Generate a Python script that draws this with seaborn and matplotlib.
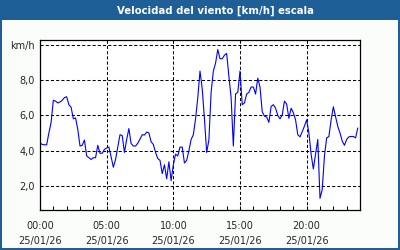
import numpy as np
import pandas as pd
import matplotlib
matplotlib.use("Agg")
import matplotlib.pyplot as plt
from matplotlib.patches import Rectangle
import seaborn as sns

# ---- data (10-minute samples, 25/01/26) ----
speed = [
    4.44, 4.35, 4.33, 4.33, 5.0, 5.6,
    6.85, 6.8, 6.7, 6.75, 6.85, 7.0,
    7.05, 6.6, 6.45, 5.8, 5.85, 5.2,
    4.26, 4.3, 4.6, 3.7, 3.6, 3.5,
    3.6, 3.6, 4.3, 3.85, 3.85, 4.07,
    4.15, 4.2, 3.65, 3.06, 3.5, 4.2,
    4.9, 4.85, 3.9, 4.63, 5.25, 4.4,
    4.26, 4.26, 4.42, 4.65, 4.9, 4.88,
    5.05, 5.0, 4.5, 4.35, 3.9, 3.55,
    3.45, 2.7, 3.2, 2.41, 3.37, 2.3,
    3.2, 3.8, 3.7, 4.2, 4.2, 3.3,
    3.45, 4.0, 4.63, 4.9, 5.8, 7.0,
    8.5, 7.5, 5.8, 3.9, 4.6, 7.3,
    8.5, 8.95, 9.72, 9.2, 9.2, 9.4,
    9.5, 8.2, 7.0, 4.26, 7.2, 7.3,
    8.5, 6.6, 6.7, 7.2, 7.3, 7.6,
    7.6, 7.2, 8.1, 7.6, 6.2, 5.95,
    5.9, 5.6, 6.5, 6.6, 6.4, 6.0,
    5.8, 6.02, 6.8, 6.63, 5.83, 6.4,
    6.15, 5.74, 4.9, 4.78, 5.07, 5.39,
    5.74, 5.0, 3.8, 2.96, 3.8, 4.63,
    1.3, 1.8, 3.7, 4.72, 4.8, 5.74,
    6.48, 5.93, 5.37, 5.0, 4.54, 4.3,
    4.63, 4.78, 4.8, 4.8, 4.72, 5.28,
]
hours = np.arange(len(speed)) / 6.0

x_tick_hours = [0, 5, 10, 15, 20]
x_tick_labels = ["00:00\n25/01/26", "05:00\n25/01/26", "10:00\n25/01/26",
                 "15:00\n25/01/26", "20:00\n25/01/26"]
y_ticks = [2, 4, 6, 8, 10]
y_tick_labels = ["2,0", "4,0", "6,0", "8,0", "km/h"]
title = "Velocidad del viento [km/h] escala"

df = pd.DataFrame({"hora": hours, "velocidad": speed})

# ---- figure ----
sns.set_style("white")
plt.rcParams["font.family"] = ["DejaVu Sans"]

BLUE = "#1e5f98"
fig = plt.figure(figsize=(4, 2.5), dpi=100, facecolor="#fbfdfb")
ax = fig.add_axes([0.1, 0.16, 0.8, 0.68])
ax.set_facecolor("white")

sns.lineplot(data=df, x="hora", y="velocidad", ax=ax, color="#0000ff",
             linewidth=0.8, legend=False)

ax.set_xlim(0, 24)
ax.set_ylim(0.64, 10.26)

ax.set_xticks(x_tick_hours)
ax.set_xticklabels(x_tick_labels, fontsize=7, linespacing=1.55)
ax.set_xticks(np.arange(0, 25, 1), minor=True)
ax.set_yticks(y_ticks)
ax.set_yticklabels(y_tick_labels, fontsize=7)

ax.tick_params(axis="x", which="both", direction="in", length=3, width=0.75,
               color="black", pad=8, top=False, bottom=True)
ax.tick_params(axis="y", which="both", length=0, pad=4)
ax.set_xlabel("")
ax.set_ylabel("")

for s in ax.spines.values():
    s.set_visible(True)
    s.set_color("black")
    s.set_linewidth(0.9)

ax.grid(True, which="major", color="black", linestyle=(0, (3, 2)),
        linewidth=0.75)

# title bar and frame
fig.patches.append(Rectangle((0, 230 / 250), 1, 20 / 250, transform=fig.transFigure,
                             facecolor=BLUE, edgecolor="none", zorder=0))
fig.patches.append(Rectangle((0, 0), 2 / 400, 1, transform=fig.transFigure,
                             facecolor=BLUE, edgecolor="none", zorder=0))
fig.patches.append(Rectangle((398 / 400, 0), 2 / 400, 1, transform=fig.transFigure,
                             facecolor=BLUE, edgecolor="none", zorder=0))
fig.patches.append(Rectangle((0, 0), 1, 2 / 250, transform=fig.transFigure,
                             facecolor=BLUE, edgecolor="none", zorder=0))
fig.text(215.5 / 400, 1 - 10.5 / 250, title, color="white", fontsize=7.3,
         fontweight="bold", ha="center", va="center")

fig.savefig("out.png", dpi=100, facecolor=fig.get_facecolor())
